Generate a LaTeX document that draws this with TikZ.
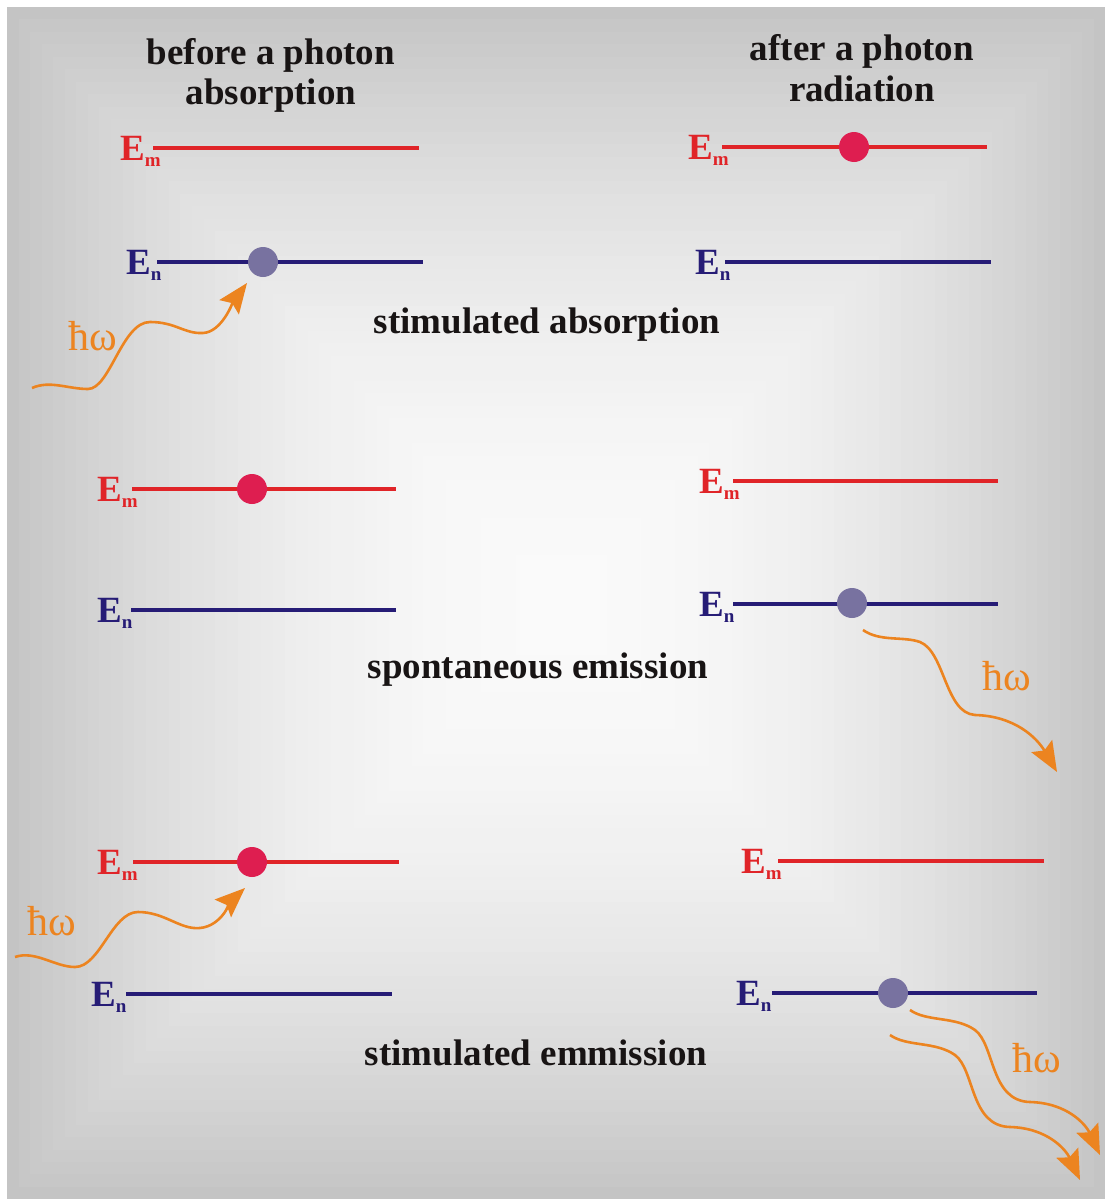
\documentclass[tikz,border=0pt]{standalone}
\usepackage{fontspec}
\setmainfont{Liberation Serif}
\usetikzlibrary{arrows.meta}

\definecolor{levelred}{RGB}{224,36,40}
\definecolor{levelblue}{RGB}{38,28,118}
\definecolor{dotred}{RGB}{222,30,80}
\definecolor{dotblue}{RGB}{120,114,160}
\definecolor{photonorange}{RGB}{236,132,32}
\definecolor{textblack}{RGB}{24,20,20}

\newcommand{\Elab}[1]{E\raisebox{-6pt}{\fontsize{19}{20}\selectfont #1}}

\begin{document}
\begin{tikzpicture}[x=1pt,y=-1pt,>=Stealth,
  every node/.style={inner sep=0pt},
  heading/.style={font=\fontsize{37}{40}\selectfont\bfseries, text=textblack, anchor=base},
  elabel/.style={font=\fontsize{37}{40}\selectfont\bfseries, anchor=base west},
  upper/.style={line width=3.6pt, levelred},
  lower/.style={line width=3.6pt, levelblue},
  excited/.style={circle, fill=dotred, minimum size=30pt},
  ground/.style={circle, fill=dotblue, minimum size=30pt},
  photon/.style={line width=2.6pt, photonorange, -{Stealth[length=30pt,width=24pt,inset=5pt]}},
  hbar/.style={font=\fontsize{42}{44}\selectfont, text=photonorange, anchor=base west}]

  % background frame
  \useasboundingbox (0,0) rectangle (1105,1199);
  \fill[white] (0,0) rectangle (1105,1199);
  \foreach \i in {0,...,47}{
    \pgfmathsetmacro\t{\i/48}
    \pgfmathsetmacro\g{2+21*(1-\t)^2}
    \fill[black!\g] ({7+555*\t},{7+598*\t}) rectangle ({1105-543*\t},{1199-594*\t});
  }

  \node[heading] (before1) at (271,64) {before a photon};
  \node[heading] (before2) at (271,104) {absorption};
  \node[heading] (after1) at (862,61) {after a photon};
  \node[heading] (after2) at (862,101) {radiation};

  % stimulated absorption
  \begin{scope}
    \coordinate (m1a) at (153,148); \coordinate (m1b) at (419,148);
    \coordinate (n1a) at (157,262); \coordinate (n1b) at (423,262);
    \draw[upper] (m1a) -- (m1b);
    \draw[lower] (n1a) -- (n1b);
    \node[elabel, levelred] (Em1) at (120,160) {\Elab{m}};
    \node[elabel, levelblue] (En1) at (126,274) {\Elab{n}};
    \node[ground] (g1) at (263,262) {};

    \coordinate (m2a) at (722,147); \coordinate (m2b) at (987,147);
    \coordinate (n2a) at (725,262); \coordinate (n2b) at (991,262);
    \draw[upper] (m2a) -- (m2b);
    \draw[lower] (n2a) -- (n2b);
    \node[elabel, levelred] (Em2) at (688,159) {\Elab{m}};
    \node[elabel, levelblue] (En2) at (695,274) {\Elab{n}};
    \node[excited] (e2) at (854,147) {};

    \coordinate (p1s) at (32,388); \coordinate (p1t) at (247,283);
    \draw[photon] (p1s) .. controls (50,380) and (68,389) .. (88,389)
      .. controls (110,389) and (122,322) .. (150,322)
      .. controls (176,322) and (184,334) .. (203,333)
      .. controls (222,332) and (233,302) .. (p1t);
    \node[hbar] (hw1) at (68,350) {ħω};
    \node[heading] (cap1) at (547,333) {stimulated absorption};
  \end{scope}

  % spontaneous emission
  \begin{scope}
    \coordinate (m3a) at (132,489); \coordinate (m3b) at (396,489);
    \coordinate (n3a) at (131,610); \coordinate (n3b) at (396,610);
    \draw[upper] (m3a) -- (m3b);
    \draw[lower] (n3a) -- (n3b);
    \node[elabel, levelred] (Em3) at (97,501) {\Elab{m}};
    \node[elabel, levelblue] (En3) at (97,622) {\Elab{n}};
    \node[excited] (e3) at (252,489) {};

    \coordinate (m4a) at (733,481); \coordinate (m4b) at (998,481);
    \coordinate (n4a) at (733,604); \coordinate (n4b) at (998,604);
    \draw[upper] (m4a) -- (m4b);
    \draw[lower] (n4a) -- (n4b);
    \node[elabel, levelred] (Em4) at (699,493) {\Elab{m}};
    \node[elabel, levelblue] (En4) at (699,616) {\Elab{n}};
    \node[ground] (g4) at (852,603) {};

    \coordinate (p2s) at (863,630); \coordinate (p2t) at (1057,772);
    \draw[photon] (p2s) .. controls (880,642) and (903,636) .. (920,642)
      .. controls (945,652) and (945,713) .. (975,715)
      .. controls (1015,716) and (1037,738) .. (p2t);
    \node[hbar] (hw2) at (982,690) {ħω};
    \node[heading] (cap2) at (538,678) {spontaneous emission};
  \end{scope}

  % stimulated emission
  \begin{scope}
    \coordinate (m5a) at (133,862); \coordinate (m5b) at (399,862);
    \coordinate (n5a) at (126,994); \coordinate (n5b) at (392,994);
    \draw[upper] (m5a) -- (m5b);
    \draw[lower] (n5a) -- (n5b);
    \node[elabel, levelred] (Em5) at (97,874) {\Elab{m}};
    \node[elabel, levelblue] (En5) at (91,1006) {\Elab{n}};
    \node[excited] (e5) at (252,862) {};

    \coordinate (p3s) at (15,957); \coordinate (p3t) at (245,888);
    \draw[photon] (p3s) .. controls (35,950) and (55,967) .. (75,967)
      .. controls (100,967) and (112,912) .. (138,912)
      .. controls (165,912) and (180,930) .. (200,928)
      .. controls (222,926) and (232,900) .. (p3t);
    \node[hbar] (hw3) at (27,935) {ħω};

    \coordinate (m6a) at (778,861); \coordinate (m6b) at (1044,861);
    \coordinate (n6a) at (772,993); \coordinate (n6b) at (1037,993);
    \draw[upper] (m6a) -- (m6b);
    \draw[lower] (n6a) -- (n6b);
    \node[elabel, levelred] (Em6) at (741,873) {\Elab{m}};
    \node[elabel, levelblue] (En6) at (736,1005) {\Elab{n}};
    \node[ground] (g6) at (893,993) {};

    \coordinate (p4s) at (910,1010); \coordinate (p4t) at (1100,1155);
    \draw[photon] (p4s) .. controls (927,1022) and (955,1016) .. (975,1030)
      .. controls (995,1045) and (990,1101) .. (1030,1102)
      .. controls (1068,1103) and (1086,1125) .. (p4t);
    \coordinate (p5s) at (890,1035); \coordinate (p5t) at (1080,1180);
    \draw[photon] (p5s) .. controls (907,1047) and (935,1041) .. (955,1055)
      .. controls (975,1070) and (970,1126) .. (1010,1127)
      .. controls (1048,1128) and (1066,1150) .. (p5t);
    \node[hbar] (hw4) at (1012,1072) {ħω};
    \node[heading] (cap3) at (536,1065) {stimulated emmission};
  \end{scope}
\end{tikzpicture}
\end{document}
